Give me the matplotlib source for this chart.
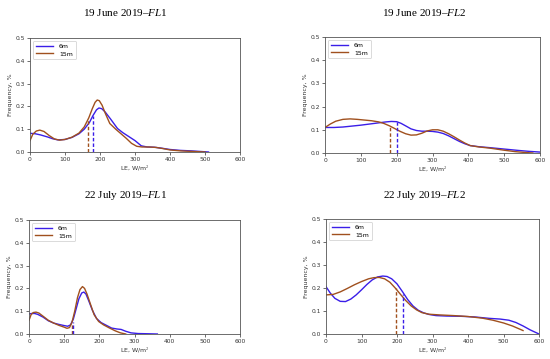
import matplotlib
matplotlib.use("Agg")
import matplotlib.pyplot as plt

plt.rcParams['mathtext.fontset'] = 'custom'
plt.rcParams['mathtext.rm'] = 'Liberation Serif'
plt.rcParams['mathtext.it'] = 'Liberation Serif:italic'

titles = ["19 June 2019–", "19 June 2019–", "22 July 2019–", "22 July 2019–"]
title_tags = ["FL1", "FL2", "FL1", "FL2"]
series_names = ["6m", "15m"]

# Panel 1: 19 June FL1
p1_x6 = [0, 15, 30, 50, 65, 80, 100, 120, 140, 155, 170, 180, 190, 197, 205, 215, 230, 250, 265, 280, 300, 318, 335, 355, 375, 400, 430, 460, 490, 510]
p1_y6 = [0.082, 0.08, 0.075, 0.066, 0.058, 0.053, 0.055, 0.064, 0.08, 0.1, 0.13, 0.16, 0.185, 0.193, 0.19, 0.175, 0.145, 0.103, 0.085, 0.07, 0.05, 0.027, 0.022, 0.021, 0.017, 0.011, 0.007, 0.005, 0.002, 0.0]
p1_x15 = [0, 8, 18, 28, 40, 55, 70, 85, 100, 120, 140, 155, 168, 178, 186, 192, 198, 206, 215, 228, 245, 260, 275, 290, 305, 320, 340, 360, 380, 400, 430, 470, 500]
p1_y15 = [0.05, 0.078, 0.092, 0.096, 0.09, 0.072, 0.057, 0.052, 0.055, 0.065, 0.083, 0.11, 0.15, 0.19, 0.218, 0.228, 0.225, 0.205, 0.17, 0.125, 0.1, 0.08, 0.06, 0.038, 0.025, 0.022, 0.022, 0.02, 0.015, 0.009, 0.005, 0.002, 0.0]
p1_med = [179, 167]
p1_medh = [0.16, 0.14]

# Panel 2: 19 June FL2
p2_x6 = [0, 25, 50, 75, 100, 125, 150, 170, 185, 200, 212, 225, 240, 255, 270, 285, 300, 315, 330, 345, 360, 375, 390, 405, 430, 460, 500, 540, 570, 600]
p2_y6 = [0.11, 0.11, 0.112, 0.116, 0.12, 0.125, 0.13, 0.134, 0.136, 0.135, 0.128, 0.117, 0.104, 0.097, 0.094, 0.094, 0.093, 0.09, 0.084, 0.074, 0.062, 0.05, 0.04, 0.032, 0.027, 0.023, 0.017, 0.011, 0.007, 0.004]
p2_x15 = [0, 15, 30, 50, 70, 90, 110, 130, 150, 165, 180, 195, 210, 225, 240, 255, 270, 285, 300, 315, 330, 345, 360, 375, 390, 405, 430, 460, 500, 530, 560, 580]
p2_y15 = [0.11, 0.125, 0.137, 0.145, 0.147, 0.145, 0.142, 0.139, 0.134, 0.127, 0.117, 0.105, 0.093, 0.083, 0.077, 0.078, 0.085, 0.095, 0.1, 0.1, 0.094, 0.083, 0.07, 0.056, 0.043, 0.032, 0.026, 0.021, 0.012, 0.006, 0.002, 0.0]
p2_med = [202, 181]
p2_medh = [0.135, 0.114]

# Panel 3: 22 July FL1
p3_x6 = [0, 8, 16, 25, 40, 55, 70, 85, 100, 110, 118, 126, 134, 142, 150, 156, 162, 170, 180, 192, 205, 220, 235, 250, 262, 275, 290, 310, 340, 365]
p3_y6 = [0.088, 0.09, 0.09, 0.086, 0.074, 0.058, 0.048, 0.042, 0.037, 0.034, 0.04, 0.065, 0.11, 0.155, 0.18, 0.184, 0.175, 0.145, 0.105, 0.068, 0.05, 0.038, 0.026, 0.022, 0.02, 0.012, 0.005, 0.002, 0.001, 0.0]
p3_x15 = [0, 6, 12, 20, 28, 40, 55, 70, 85, 100, 108, 115, 122, 130, 138, 145, 152, 158, 165, 175, 185, 198, 212, 228, 245, 260, 275]
p3_y15 = [0.06, 0.085, 0.094, 0.096, 0.092, 0.078, 0.06, 0.048, 0.038, 0.03, 0.025, 0.028, 0.05, 0.1, 0.16, 0.195, 0.208, 0.2, 0.175, 0.13, 0.085, 0.055, 0.04, 0.027, 0.014, 0.005, 0.0]
p3_med = [124, 121]
p3_medh = [0.052, 0.042]

# Panel 4: 22 July FL2
p4_x6 = [0, 12, 25, 40, 55, 70, 85, 100, 115, 130, 145, 160, 172, 185, 200, 215, 230, 245, 260, 275, 290, 310, 340, 380, 420, 460, 490, 515, 535, 555, 575, 600]
p4_y6 = [0.206, 0.178, 0.155, 0.142, 0.141, 0.152, 0.17, 0.192, 0.215, 0.235, 0.248, 0.252, 0.25, 0.24, 0.218, 0.185, 0.15, 0.122, 0.103, 0.092, 0.085, 0.08, 0.078, 0.077, 0.074, 0.068, 0.065, 0.06, 0.05, 0.035, 0.018, 0.0]
p4_x15 = [0, 20, 40, 60, 80, 100, 120, 135, 150, 165, 180, 195, 210, 225, 240, 255, 270, 290, 320, 360, 400, 440, 470, 500, 525, 555]
p4_y15 = [0.17, 0.172, 0.183, 0.198, 0.214, 0.228, 0.24, 0.245, 0.246, 0.24, 0.225, 0.2, 0.172, 0.145, 0.122, 0.105, 0.093, 0.086, 0.083, 0.08, 0.076, 0.069, 0.06, 0.048, 0.035, 0.015]
p4_med = [217, 196]
p4_medh = [0.175, 0.199]

panels = [
    (p1_x6, p1_y6, p1_x15, p1_y15, p1_med, p1_medh),
    (p2_x6, p2_y6, p2_x15, p2_y15, p2_med, p2_medh),
    (p3_x6, p3_y6, p3_x15, p3_y15, p3_med, p3_medh),
    (p4_x6, p4_y6, p4_x15, p4_y15, p4_med, p4_medh),
]

W, H = 550, 359
fig = plt.figure(figsize=(5.5, 3.59), dpi=100)

# axes rectangles in pixels: left, right, top, bottom
rects = [(30, 240, 38, 152), (325, 540, 37, 153), (29, 240, 220, 334), (326, 539, 219, 334)]
title_pos = [(125, 13), (424, 13), (125, 195), (424, 195)]

c6 = '#3a1ee8'
c15 = '#a0501e'

for i, (rect, pdata) in enumerate(zip(rects, panels)):
    l, r, t, b = rect
    ax = fig.add_axes([l / W, 1 - b / H, (r - l) / W, (b - t) / H])
    x6, y6, x15, y15, med, medh = pdata
    ax.plot(x6, y6, color=c6, lw=1.0, label=series_names[0], solid_joinstyle='round')
    ax.plot(x15, y15, color=c15, lw=1.0, label=series_names[1], solid_joinstyle='round')
    ax.vlines(med[1], 0, medh[1], colors=c15, linestyles=(0, (2.5, 1.5)), lw=1.0)
    ax.vlines(med[0], 0, medh[0], colors=c6, linestyles=(0, (2.5, 1.5)), lw=1.0)
    ax.set_xlim(0, 600)
    ax.set_ylim(0, 0.5)
    ax.set_xticks([0, 100, 200, 300, 400, 500, 600])
    ax.set_yticks([0.0, 0.1, 0.2, 0.3, 0.4, 0.5])
    ax.tick_params(labelsize=4.3, length=2, width=0.5, pad=1.5, colors='#333333')
    for s in ax.spines.values():
        s.set_linewidth(0.6)
        s.set_color('#555555')
    ax.set_xlabel("LE, W/m$^2$", fontsize=4.5, labelpad=1.5, color='#333333')
    ax.set_ylabel("Frequency, %", fontsize=4.5, labelpad=2, color='#333333')
    leg = ax.legend(loc='upper left', fontsize=4.5, handlelength=2.8, borderpad=0.45,
                    labelspacing=0.3, handletextpad=0.9, framealpha=1.0, edgecolor='#cccccc')
    leg.get_frame().set_linewidth(0.5)
    tx, ty = title_pos[i]
    fig.text(tx / W, 1 - ty / H, titles[i] + "$\\it{" + title_tags[i] + "}$",
             ha='center', va='center', fontsize=8, family='Liberation Serif')

fig.savefig("out.png", dpi=100)
